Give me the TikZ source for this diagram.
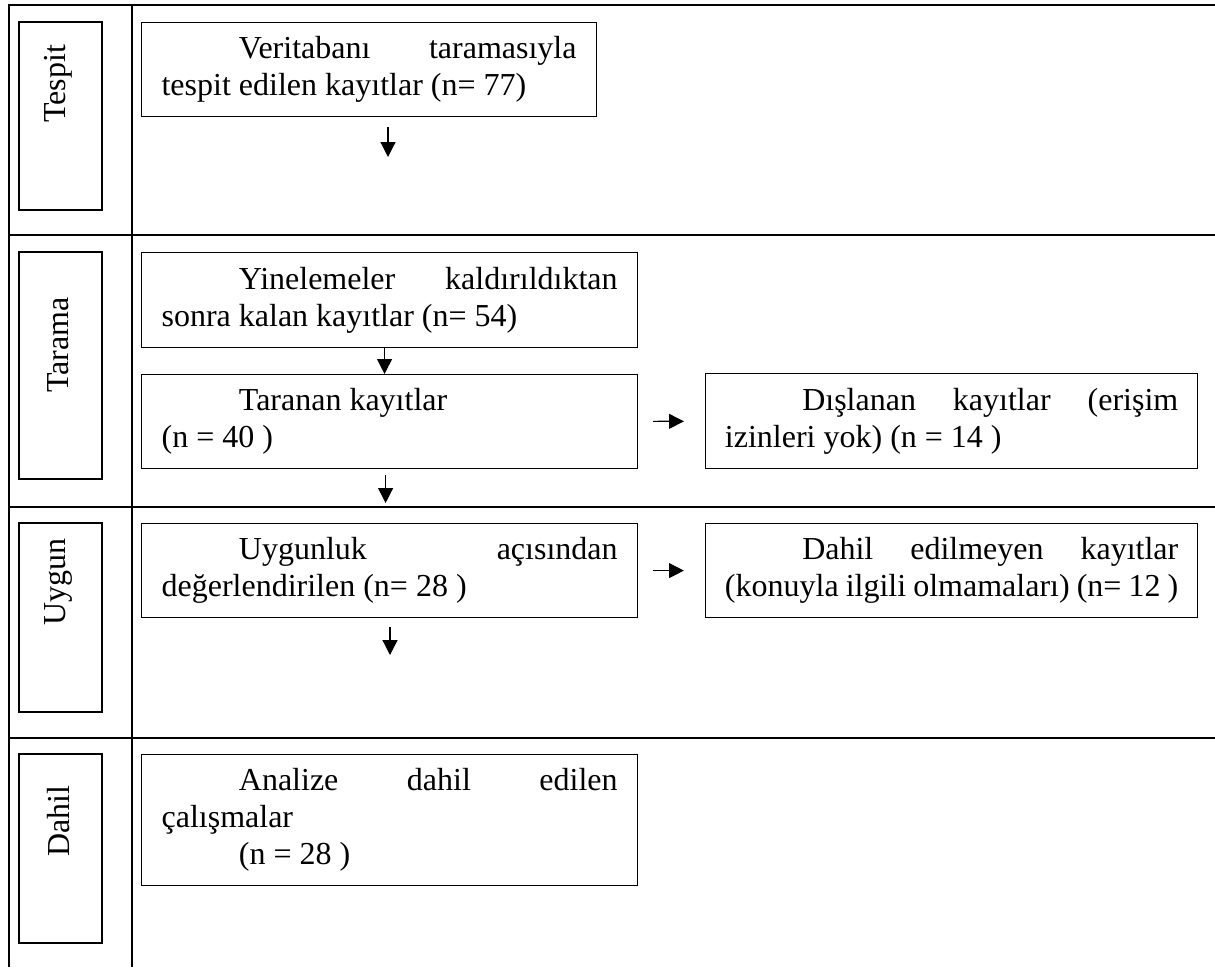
\documentclass[tikz,border=0pt]{standalone}
\usepackage{fontspec}
\setmainfont{Liberation Serif}
\usetikzlibrary{arrows.meta}
\setlength{\parindent}{0pt}
\newcommand{\firstind}{\hspace*{29pt}}

\tikzset{
    frameline/.style={line width=0.65pt},
    sidebox/.style={line width=0.45pt},
    rowlabel/.style={rotate=90, inner sep=0pt, font=\fontsize{12pt}{13.8pt}\selectfont},
    recbox/.style={draw, line width=0.45pt, anchor=north west, inner xsep=7.5pt,
        inner ysep=0pt, align=justify, font=\fontsize{12pt}{13.8pt}\selectfont},
    arrline/.style={line width=0.45pt}
}

\begin{document}
\begin{tikzpicture}[x=0.375pt, y=-0.375pt, >={Triangle[length=5.6pt,width=5.6pt]}]
    \useasboundingbox (0,0) rectangle (1215,967);

    % table frame
    \draw[frameline] (9,967) -- (9,5) -- (1215,5);
    \draw[frameline] (132,5) -- (132,967);
    \foreach \yrow in {235,507,738}
        \draw[frameline] (9,\yrow) -- (1215,\yrow);

    % row labels
    \draw[sidebox] (19,22) rectangle (102,210);
    \draw[sidebox] (19,252) rectangle (102,479);
    \draw[sidebox] (19,523) rectangle (102,712);
    \draw[sidebox] (19,754) rectangle (102,943);
    \node[rowlabel] (lbtespit) at (58.5,84) {Tespit};
    \node[rowlabel] (lbtarama) at (58.5,345) {Tarama};
    \node[rowlabel] (lbuygun) at (58.5,582) {Uygun};
    \node[rowlabel] (lbdahil) at (58.5,821) {Dahil};

    % boxes
    \node[recbox, text width=155.6pt, minimum height=35.25pt] (vtb) at (141,22)
        {\firstind Veritabanı\hfill taramasıyla\break tespit edilen kayıtlar (n= 77)};
    \node[recbox, text width=171pt, minimum height=35.6pt] (yin) at (141,252)
        {\firstind Yinelemeler\hfill kaldırıldıktan\break sonra kalan kayıtlar (n= 54)};
    \node[recbox, text width=171pt, minimum height=35.25pt] (tar) at (141,374)
        {\firstind Taranan kayıtlar\hfill\break (n = 40 )};
    \node[recbox, text width=170pt, inner xsep=7.25pt, minimum height=35.6pt] (dis) at (705,373)
        {\firstind Dışlanan\hfill kayıtlar\hfill (erişim\break izinleri yok) (n = 14 )};
    \node[recbox, text width=171pt, minimum height=35.25pt] (uyg) at (141,523)
        {\firstind Uygunluk\hfill açısından\break değerlendirilen (n= 28 )};
    \node[recbox, text width=170pt, inner xsep=7.25pt, minimum height=35.25pt] (dhl) at (705,523)
        {\firstind Dahil\hfill edilmeyen\hfill kayıtlar\break (konuyla ilgili olmamaları) (n= 12 )};
    \node[recbox, text width=171pt, minimum height=49.1pt] (anz) at (141,754)
        {\firstind Analize\hfill dahil\hfill edilen\break çalışmalar\par\firstind (n = 28 )};

    % arrows
    \coordinate (tesend) at (388,157);
    \coordinate (uygend) at (390,655);
    \draw[->, arrline, shorten <=3.75pt] (vtb.south -| tesend) -- (tesend);
    \draw[->, arrline] ([xshift=-1.9pt]yin.south) -- ([xshift=-1.9pt]tar.north);
    \draw[->, arrline, shorten <=2.25pt, shorten >=7.5pt] ([xshift=-1.5pt]tar.south) -- ([xshift=-1.5pt]uyg.north);
    \draw[->, arrline, shorten <=5.6pt, shorten >=7.9pt] (tar) -- (dis);
    \draw[->, arrline, shorten <=5.6pt, shorten >=7.9pt] (uyg) -- (dhl);
    \draw[->, arrline, shorten <=3.4pt] (uyg.south -| uygend) -- (uygend);
\end{tikzpicture}
\end{document}
